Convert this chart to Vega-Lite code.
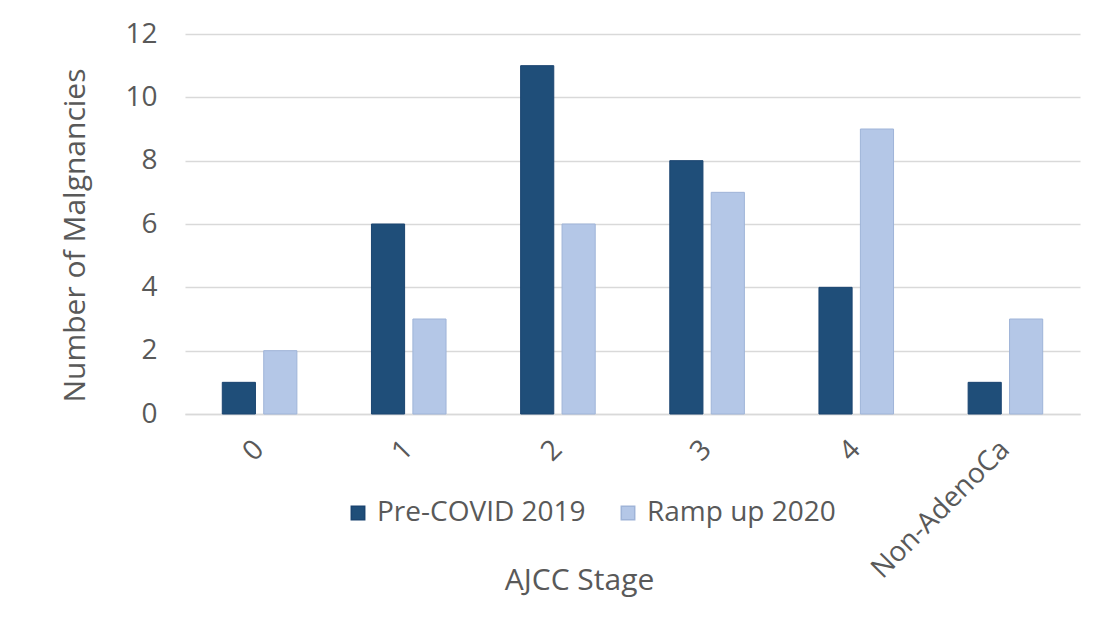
{
  "$schema": "https://vega.github.io/schema/vega-lite/v6.json",
  "autosize": {"type": "none"},
  "padding": {"left": 185, "top": 34, "right": 25, "bottom": 207},
  "width": 895,
  "height": 380,
  "background": "white",
  "data": {
    "values": [
      {"stage": "0", "series": "Pre-COVID 2019", "count": 1},
      {"stage": "0", "series": "Ramp up 2020", "count": 2},
      {"stage": "1", "series": "Pre-COVID 2019", "count": 6},
      {"stage": "1", "series": "Ramp up 2020", "count": 3},
      {"stage": "2", "series": "Pre-COVID 2019", "count": 11},
      {"stage": "2", "series": "Ramp up 2020", "count": 6},
      {"stage": "3", "series": "Pre-COVID 2019", "count": 8},
      {"stage": "3", "series": "Ramp up 2020", "count": 7},
      {"stage": "4", "series": "Pre-COVID 2019", "count": 4},
      {"stage": "4", "series": "Ramp up 2020", "count": 9},
      {"stage": "Non-AdenoCa", "series": "Pre-COVID 2019", "count": 1},
      {"stage": "Non-AdenoCa", "series": "Ramp up 2020", "count": 3}
    ]
  },
  "mark": {"type": "bar", "strokeWidth": 1},
  "encoding": {
    "x": {
      "field": "stage",
      "type": "nominal",
      "sort": null,
      "scale": {"paddingInner": 0.5, "paddingOuter": 0.25},
      "axis": {
        "title": "AJCC Stage",
        "labelAngle": -45,
        "labelAlign": "right",
        "labelBaseline": "middle",
        "labelPadding": 31,
        "labelLimit": 400,
        "ticks": false,
        "domainColor": "#d9d9d9",
        "domainWidth": 1.5,
        "titleX": 394,
        "titleY": 166,
        "titleBaseline": "middle",
        "titleAlign": "center"
      }
    },
    "xOffset": {
      "field": "series",
      "type": "nominal",
      "scale": {"paddingInner": 0.2}
    },
    "y": {
      "field": "count",
      "type": "quantitative",
      "scale": {"domain": [0, 12]},
      "axis": {
        "title": "Number of Malgnancies",
        "values": [0, 2, 4, 6, 8, 10, 12],
        "domain": false,
        "ticks": false,
        "labelPadding": 28,
        "gridColor": "#d9d9d9",
        "gridWidth": 1.5,
        "titlePadding": 34,
        "titleY": 201
      }
    },
    "color": {
      "field": "series",
      "type": "nominal",
      "scale": {"domain": ["Pre-COVID 2019", "Ramp up 2020"], "range": ["#1f4e79", "#b4c7e7"]},
      "legend": {
        "title": null,
        "orient": "none",
        "direction": "horizontal",
        "legendX": 159,
        "legendY": 465,
        "symbolType": "square",
        "symbolSize": 180,
        "columnPadding": 28,
        "labelOffset": 5
      }
    },
    "stroke": {
      "field": "series",
      "type": "nominal",
      "scale": {"domain": ["Pre-COVID 2019", "Ramp up 2020"], "range": ["#1a4470", "#9fb4d8"]},
      "legend": null
    }
  },
  "config": {
    "font": "Open Sans",
    "view": {"stroke": null},
    "axis": {
      "labelFont": "Open Sans",
      "labelFontSize": 28,
      "labelColor": "#595959",
      "titleFont": "Open Sans",
      "titleFontSize": 30,
      "titleFontWeight": "normal",
      "titleColor": "#595959"
    },
    "legend": {
      "labelFont": "Open Sans",
      "labelFontSize": 28,
      "labelColor": "#595959",
      "labelLimit": 400
    }
  }
}
